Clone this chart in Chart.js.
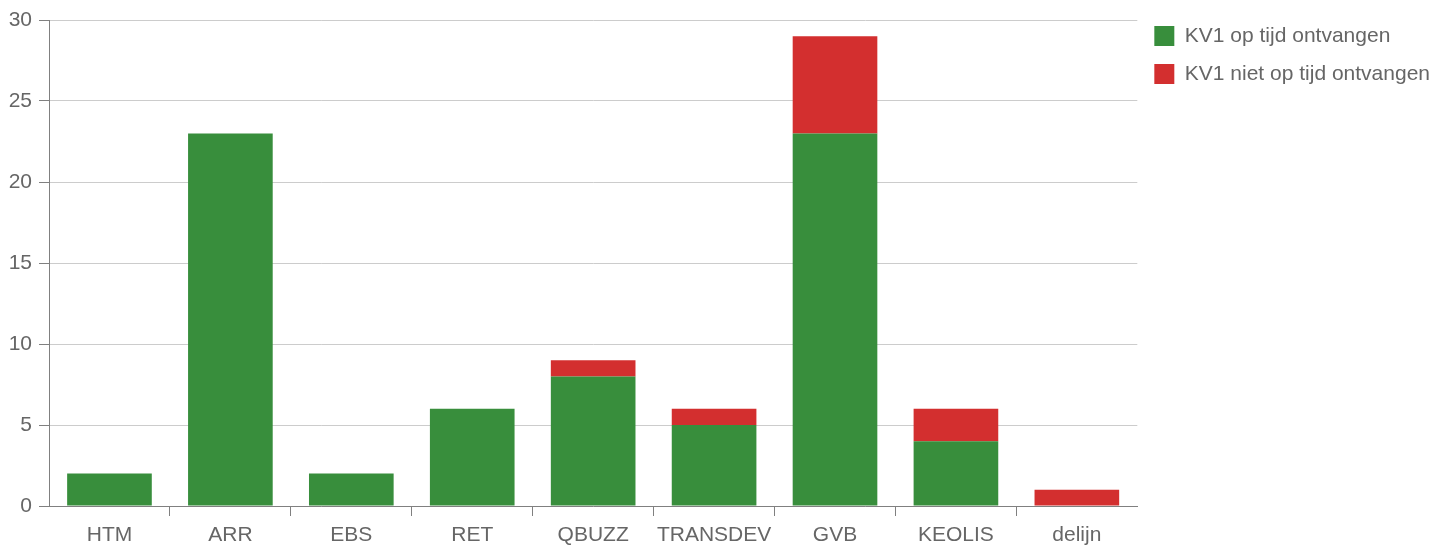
<!DOCTYPE html>
<html>
<head>
<meta charset="utf-8">
<script src="https://cdn.jsdelivr.net/npm/chart.js@4/dist/chart.umd.min.js"></script>
<style>
  html, body { margin: 0; padding: 0; background: #fff; }
  #wrap { width: 1443px; height: 547px; position: relative; }
</style>
</head>
<body>
<div id="wrap"><canvas id="kv1Chart"></canvas></div>
<script>
// Vervoerders en aantallen KV1-berichten
const categories = ['HTM', 'ARR', 'EBS', 'RET', 'QBUZZ', 'TRANSDEV', 'GVB', 'KEOLIS', 'delijn'];
const opTijd = [2, 23, 2, 6, 8, 5, 23, 4, 0];
const nietOpTijd = [0, 0, 0, 0, 1, 1, 6, 2, 1];
const yTicks = [0, 5, 10, 15, 20, 25, 30];

const textColor = '#666';
const axisColor = '#808080';
const fontFamily = '"Liberation Sans", Arial, sans-serif';

document.addEventListener('DOMContentLoaded', function() {
    const ctx = document.getElementById('kv1Chart').getContext('2d');
    new Chart(ctx, {
        type: 'bar',
        data: {
            labels: categories,
            datasets: [
                {
                    label: 'KV1 op tijd ontvangen',
                    data: opTijd,
                    backgroundColor: '#388e3c',
                    categoryPercentage: 1,
                    barPercentage: 0.7
                },
                {
                    label: 'KV1 niet op tijd ontvangen',
                    data: nietOpTijd,
                    backgroundColor: '#d32f2f',
                    categoryPercentage: 1,
                    barPercentage: 0.7
                }
            ]
        },
        options: {
            responsive: true,
            maintainAspectRatio: false,
            animation: false,
            layout: { padding: { top: 8.5, right: 3, left: 0, bottom: 0 } },
            plugins: {
                tooltip: { enabled: false },
                legend: {
                    position: 'right',
                    align: 'start',
                    labels: {
                        boxWidth: 20,
                        boxHeight: 20,
                        padding: 17,
                        color: textColor,
                        font: { size: 21, family: fontFamily }
                    }
                }
            },
            scales: {
                x: {
                    stacked: true,
                    offset: true,
                    afterFit: function(scale) { scale.height = 41; },
                    grid: {
                        offset: true,
                        drawOnChartArea: false,
                        drawTicks: true,
                        tickLength: 10,
                        tickColor: function(c) {
                            return (c.type !== 'tick' || c.index === 0) ? 'rgba(0,0,0,0)' : axisColor;
                        }
                    },
                    border: { color: axisColor, width: 1 },
                    ticks: {
                        color: textColor,
                        padding: 7,
                        autoSkip: false,
                        maxRotation: 0,
                        minRotation: 0,
                        font: { size: 21, family: fontFamily }
                    }
                },
                y: {
                    stacked: true,
                    min: 0,
                    max: 30,
                    afterFit: function(scale) {
                        scale.width = 49;
                        scale.paddingTop = 20;
                    },
                    afterBuildTicks: function(scale) {
                        scale.ticks = yTicks.map(v => ({ value: v }));
                    },
                    grid: {
                        color: '#ccc',
                        tickColor: axisColor,
                        tickLength: 10
                    },
                    border: { color: axisColor, width: 1 },
                    ticks: {
                        color: textColor,
                        padding: 7,
                        font: { size: 21, family: fontFamily }
                    }
                }
            }
        }
    });
});
</script>
</body>
</html>
